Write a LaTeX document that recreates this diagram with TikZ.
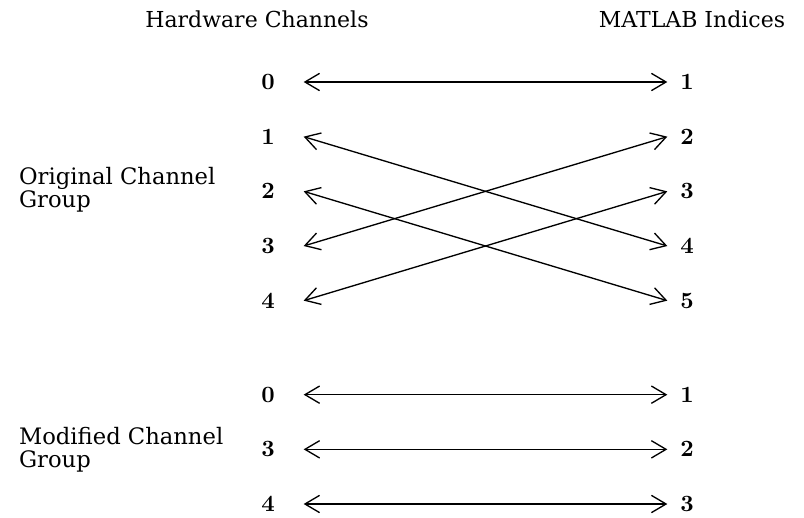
\documentclass[tikz,border=0pt]{standalone}
\usepackage{fontspec}
\usetikzlibrary{arrows.meta,positioning}
\newfontfamily\labelfont{DejaVu Serif}
\newfontfamily\numfont{lmroman10-bold.otf}

\begin{document}
\begin{tikzpicture}[<->,>={Straight Barb[length=11pt,width=13pt]},line width=1pt,
                    x=0.75pt,y=-0.75pt,node distance=41pt]

  \useasboundingbox (0,0) rectangle (804,518);

  \tikzstyle{hw}  = [font=\numfont\fontsize{17.5}{20}\selectfont, inner sep=0pt, minimum width=52.5pt]
  \tikzstyle{idx} = [font=\numfont\fontsize{17.5}{20}\selectfont, inner sep=0pt, minimum width=28.5pt]
  \tikzstyle{head} = [font=\labelfont\fontsize{16.5}{19}\selectfont, anchor=base]
  \tikzstyle{grp} = [font=\labelfont\fontsize{17}{17.25}\selectfont, anchor=west, align=left]

  % column headings
  \node[head] (hwhead)  at (257,27) {Hardware Channels};
  \node[head] (idxhead) at (692,27) {MATLAB Indices};

  % original channel group
  \node[hw]  (a0) at (268,82)          {0};
  \node[hw]  (a1) [below of=a0]        {1};
  \node[hw]  (a2) [below of=a1]        {2};
  \node[hw]  (a3) [below of=a2]        {3};
  \node[hw]  (a4) [below of=a3]        {4};
  \node[idx] (i1) [right of=a0, node distance=314.25pt] {1};
  \node[idx] (i2) [below of=i1]        {2};
  \node[idx] (i3) [below of=i2]        {3};
  \node[idx] (i4) [below of=i3]        {4};
  \node[idx] (i5) [below of=i4]        {5};
  \node[grp] (orig) at (14,189.5) {Original Channel\\Group};

  % modified channel group
  \node[hw]  (b0) [below of=a4, node distance=70.5pt] {0};
  \node[hw]  (b3) [below of=b0]        {3};
  \node[hw]  (b4) [below of=b3]        {4};
  \node[idx] (j1) [right of=b0, node distance=314.25pt] {1};
  \node[idx] (j2) [below of=j1]        {2};
  \node[idx] (j3) [below of=j2]        {3};
  \node[grp] (mod) at (14,449.5) {Modified Channel\\Group};

  \path (a0.east) edge (i1.west)
        (a1.east) edge (i4.west)
        (a2.east) edge (i5.west)
        (a3.east) edge (i2.west)
        (a4.east) edge (i3.west)
        (b0.east) edge (j1.west)
        (b3.east) edge (j2.west)
        (b4.east) edge (j3.west);
\end{tikzpicture}
\end{document}
